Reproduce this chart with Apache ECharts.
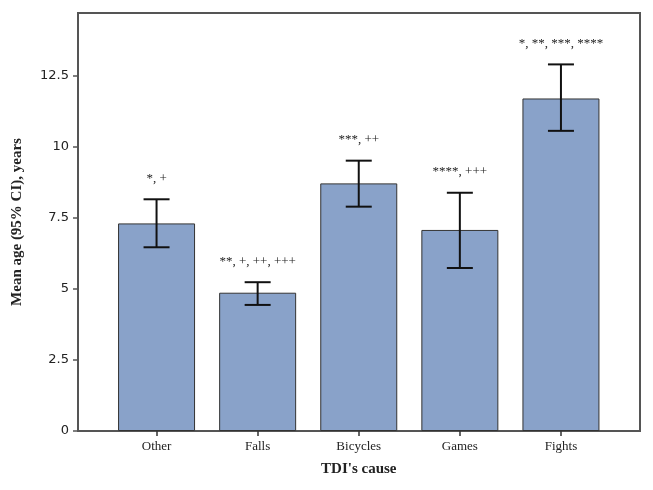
<!DOCTYPE html>
<html>
<head>
<meta charset="utf-8">
<script src="https://cdn.jsdelivr.net/npm/echarts@6/dist/echarts.min.js"></script>
<style>html,body{margin:0;padding:0;background:#fff}#c{width:653px;height:490px}</style>
</head>
<body>
<div id="c"></div>
<script>
var categories = ["Other", "Falls", "Bicycles", "Games", "Fights"];
var meanAge = [7.31, 4.87, 8.72, 7.08, 11.71];
var ciLow = [6.47, 4.44, 7.90, 5.74, 10.57];
var ciHigh = [8.16, 5.24, 9.52, 8.39, 12.91];
var annotations = ["*, +", "**, +, ++, +++", "***, ++", "****, +++", "*, **, ***, ****"];
var yTicks = [0, 2.5, 5, 7.5, 10, 12.5];

var chart = echarts.init(document.getElementById('c'), null, {renderer: 'canvas'});
var errData = categories.map(function (c, i) { return [i, ciLow[i], ciHigh[i], annotations[i]]; });

chart.setOption({
  animation: false,
  backgroundColor: '#fff',
  grid: [
    {left: 78, right: 13, top: 13, bottom: 59, show: true, borderColor: '#555', borderWidth: 2, backgroundColor: 'transparent'},
    {left: 106, right: 41.5, top: 13, bottom: 59}
  ],
  xAxis: [
    {gridIndex: 0, type: 'value', min: 0, max: 1, show: false},
    {gridIndex: 1, type: 'category', data: categories,
     axisLine: {show: false},
     axisTick: {show: true, alignWithLabel: true, length: 5, lineStyle: {color: '#333', width: 1.5}},
     axisLabel: {color: '#222', fontFamily: 'Liberation Serif', fontSize: 13, margin: 9},
     name: "TDI's cause", nameLocation: 'middle', nameGap: 31,
     nameTextStyle: {fontFamily: 'Liberation Serif', fontWeight: 'bold', fontSize: 15, color: '#222'}}
  ],
  yAxis: [
    {gridIndex: 0, type: 'value', min: 0, max: 14.72, interval: 2.5,
     axisLine: {show: true, lineStyle: {color: '#555', width: 2}},
     axisTick: {show: true, length: 5, lineStyle: {color: '#555', width: 1.5}},
     axisLabel: {color: '#222', fontFamily: 'DejaVu Sans', fontSize: 13, margin: 9, showMaxLabel: false,
       formatter: function (v) { return yTicks.indexOf(v) >= 0 ? String(v) : ''; }},
     splitLine: {show: false},
     name: 'Mean age (95% CI), years', nameLocation: 'middle', nameRotate: 90, nameGap: 53,
     nameTextStyle: {fontFamily: 'Liberation Serif', fontWeight: 'bold', fontSize: 15, color: '#222'}},
    {gridIndex: 1, type: 'value', min: 0, max: 14.72, show: false}
  ],
  series: [
    {type: 'bar', xAxisIndex: 1, yAxisIndex: 1, data: meanAge, barWidth: 77,
     itemStyle: {color: '#89A2C9', borderColor: '#333', borderWidth: 1}},
    {type: 'custom', xAxisIndex: 1, yAxisIndex: 1, data: errData, z: 10,
     renderItem: function (params, api) {
       var x = api.value(0);
       var lo = api.coord([x, api.value(1)]);
       var hi = api.coord([x, api.value(2)]);
       var half = 13;
       var style = {stroke: '#111', lineWidth: 2};
       return {type: 'group', children: [
         {type: 'line', shape: {x1: lo[0], y1: lo[1], x2: hi[0], y2: hi[1]}, style: style},
         {type: 'line', shape: {x1: lo[0] - half, y1: lo[1], x2: lo[0] + half, y2: lo[1]}, style: style},
         {type: 'line', shape: {x1: hi[0] - half, y1: hi[1], x2: hi[0] + half, y2: hi[1]}, style: style},
         {type: 'text', x: hi[0], y: hi[1] - 21, style: {text: api.value(3), fill: '#222', font: '13px "Liberation Serif"', align: 'center', verticalAlign: 'middle'}}
       ]};
     }}
  ]
});
</script>
</body>
</html>
